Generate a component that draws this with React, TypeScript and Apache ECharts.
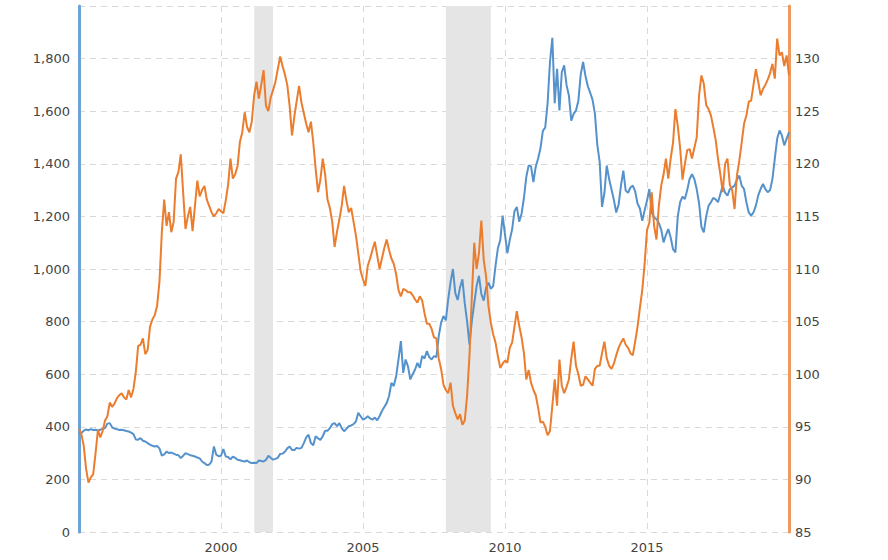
import React, { useEffect, useRef } from "react";
import * as echarts from "echarts";

const startYear = 1995;

// Gold price, USD/oz, monthly from Jan 1995 to Jan 2020 (left axis)
const goldPrice = [
  380, 376, 385, 390, 387, 391, 388, 389, 386, 389, 392, 395,
  412, 414, 398, 393, 391, 388, 389, 387, 384, 382, 378, 372,
  352, 351, 357, 347, 344, 338, 332, 328, 325, 327, 318, 290,
  295, 306, 300, 302, 298, 294, 292, 281, 290, 300, 296, 292,
  290, 287, 283, 280, 268, 262, 255, 256, 268, 325, 294, 288,
  290, 315, 287, 285, 276, 287, 282, 275, 273, 270, 268, 272,
  265, 262, 263, 262, 272, 270, 268, 274, 290, 282, 275, 278,
  282, 297, 298, 305, 318, 325, 312, 312, 320, 317, 320, 338,
  360, 370, 338, 330, 364, 356, 350, 364, 385, 385, 395, 410,
  414, 402, 414, 395, 383, 392, 402, 405, 410, 420, 453, 440,
  427, 432, 440, 432, 427, 435, 425, 440, 460, 475, 490, 516,
  567, 555, 592, 656, 726, 605, 656, 630, 580, 600, 618, 643,
  624, 669, 660, 688, 665, 656, 669, 665, 745, 796, 821, 805,
  885, 950, 1000, 908, 882, 930, 961, 869, 800, 712, 804, 869,
  935, 974, 905, 880, 930, 948, 925, 935, 1013, 1079, 1110, 1203,
  1131, 1060, 1110, 1150, 1220, 1236, 1180, 1210, 1270, 1350, 1394, 1390,
  1330, 1390, 1420, 1460, 1525, 1538, 1630, 1787, 1879, 1630, 1761, 1603,
  1748, 1774, 1700, 1660, 1564, 1590, 1603, 1640, 1740, 1787, 1734, 1695,
  1670, 1643, 1590, 1472, 1407, 1236, 1289, 1393, 1342, 1302, 1263, 1215,
  1245, 1317, 1374, 1298, 1290, 1310, 1317, 1295, 1249, 1230, 1183, 1223,
  1260, 1304, 1215, 1195, 1190, 1175, 1150, 1101, 1130, 1152, 1120, 1075,
  1063, 1200, 1254, 1275, 1266, 1300, 1342, 1360, 1342, 1304, 1250, 1160,
  1139, 1200, 1240, 1254, 1270, 1265, 1254, 1285, 1317, 1290, 1279, 1304,
  1310, 1317, 1340, 1355, 1317, 1304, 1254, 1215, 1203, 1215, 1241, 1280,
  1304, 1323, 1304, 1292, 1300, 1342, 1420, 1495, 1527, 1508, 1470, 1495,
  1520,
];

// Trade-weighted US dollar index, monthly from Jan 1995 to Jan 2020 (right axis)
const dollarIndex = [
  94.8, 94.3, 93.2, 91.0, 89.7, 90.2, 90.5, 92.5, 94.7, 94.0, 94.6, 95.6,
  96.0, 97.3, 96.9, 97.2, 97.7, 98.0, 98.2, 97.8, 97.6, 98.5, 97.8, 98.6,
  100.2, 102.7, 102.8, 103.4, 101.9, 102.3, 104.5, 105.2, 105.6, 106.5, 108.8, 113.5,
  116.6, 114.1, 115.4, 113.5, 114.5, 118.6, 119.2, 120.9, 117.3, 113.8, 115.0, 115.9,
  113.6, 116.0, 118.4, 116.9, 117.5, 117.9, 116.6, 116.0, 115.4, 115.0, 115.3, 115.7,
  115.5, 115.3, 116.5, 118.0, 120.5, 118.6, 119.0, 119.8, 122.1, 123.0, 124.9, 123.5,
  123.0, 124.0, 126.5, 127.8, 126.2, 127.5, 128.9, 125.5, 125.0, 126.3, 127.0, 127.8,
  129.0, 130.2, 129.3, 128.5, 127.5, 125.5, 122.7, 124.5, 126.0, 127.4, 125.8, 124.8,
  123.8, 123.0, 124.0, 122.0, 119.5, 117.3, 118.5, 120.5, 119.0, 116.6, 115.8, 114.5,
  112.1, 113.5, 114.7, 116.0, 117.9, 116.5, 115.4, 115.8, 114.5, 113.2, 111.5, 109.8,
  109.0, 108.4, 110.3, 111.0, 111.8, 112.6, 111.3, 110.0, 111.0, 112.0, 112.8, 111.8,
  111.0, 110.5, 109.5, 108.0, 107.4, 108.1, 108.0, 107.8, 107.8, 107.5, 107.1, 106.8,
  107.4, 107.0, 105.8, 104.8, 104.8, 104.3, 103.5, 103.4, 101.5, 100.5, 99.0, 98.5,
  98.2, 99.2, 97.0, 96.3, 95.7, 96.2, 95.2, 95.6, 98.0, 101.8, 107.4, 112.5,
  110.0, 111.5, 114.6, 110.9, 109.3, 106.5, 104.9, 103.8, 103.0, 101.7, 100.6, 101.0,
  101.3, 101.1, 102.5, 103.0, 104.5, 106.0, 104.6, 103.5, 102.0, 99.5, 100.4, 99.2,
  98.5, 98.0, 96.8, 95.4, 95.5, 95.0, 94.2, 94.6, 97.0, 99.5, 97.0, 101.4,
  98.9, 98.2, 98.8, 99.5, 101.5, 103.1, 100.8, 100.0, 98.9, 99.0, 99.8, 99.5,
  99.2, 98.9, 100.5, 100.8, 100.8, 102.0, 103.1, 101.5, 100.8, 100.5, 101.0, 101.8,
  102.5, 103.0, 103.4, 102.8, 102.5, 102.0, 101.8, 103.1, 104.5, 106.3, 108.0, 110.5,
  113.7, 114.4, 117.3, 114.1, 112.8, 116.0, 117.9, 119.0, 120.5, 118.6, 120.5, 122.0,
  125.2, 123.6, 121.5, 118.5, 120.0, 121.3, 121.4, 120.5, 121.5, 122.5, 126.5, 128.4,
  127.6, 125.6, 125.2, 124.6, 123.5, 122.3, 120.5, 119.0, 117.3, 120.0, 120.5, 118.0,
  117.5, 115.7, 118.9, 120.3, 122.0, 123.8, 124.6, 125.9, 126.0, 127.5, 129.0, 127.8,
  126.5, 127.1, 127.5, 128.0, 128.6, 129.5, 128.1, 131.9, 130.3, 130.6, 129.3, 130.3,
  128.4,
];

// Recession periods (decimal years)
const recessions: [number, number][] = [
  [2001.17, 2001.83],
  [2007.92, 2009.5],
];

const xTicks = [2000, 2005, 2010, 2015];

const BLUE = "#5592cc";
const ORANGE = "#eb7d2e";
const GRID = "#d9d9d9";
const FONT = "DejaVu Sans";

export default function App() {
  const ref = useRef<HTMLDivElement>(null);

  useEffect(() => {
    if (!ref.current) return;
    const chart = echarts.init(ref.current, undefined, { renderer: "svg" });

    const toPoints = (vals: number[]) =>
      vals.map((v, i) => [startYear + i / 12, v]);

    const gridLine = {
      show: true,
      lineStyle: { color: GRID, type: [6, 5], width: 1 },
    };

    chart.setOption({
      animation: false,
      grid: { left: 79, right: 99, top: 6, bottom: 28 },
      xAxis: {
        type: "value",
        min: 1995,
        max: 2020,
        interval: 5,
        axisLine: { show: false },
        axisTick: { show: false },
        axisLabel: {
          color: "#444",
          fontFamily: FONT,
          fontSize: 13,
          margin: 9,
          formatter: (v: number) => (xTicks.includes(v) ? String(v) : ""),
        },
        splitLine: gridLine,
      },
      yAxis: [
        {
          type: "value",
          min: 0,
          max: 2000,
          interval: 200,
          position: "left",
          axisLine: { show: true, lineStyle: { color: "#6ea2d4", width: 3 } },
          axisTick: { show: false },
          axisLabel: {
            color: "#444",
            fontFamily: FONT,
            fontSize: 13,
            margin: 9,
            formatter: (v: number) =>
              v >= 2000 ? "" : v.toLocaleString("en-US"),
          },
          splitLine: gridLine,
        },
        {
          type: "value",
          min: 85,
          max: 135,
          interval: 5,
          position: "right",
          axisLine: { show: true, lineStyle: { color: "#ee9a5e", width: 3 } },
          axisTick: { show: false },
          axisLabel: {
            color: "#444",
            fontFamily: FONT,
            fontSize: 13,
            margin: 6,
            formatter: (v: number) => (v >= 135 ? "" : String(v)),
          },
          splitLine: { show: false },
        },
      ],
      series: [
        {
          type: "line",
          name: "recessions",
          data: [],
          z: 1,
          silent: true,
          markArea: {
            silent: true,
            itemStyle: { color: "#e5e5e5" },
            data: recessions.map(([a, b]) => [{ xAxis: a }, { xAxis: b }]),
          },
        },
        {
          type: "line",
          name: "Gold",
          yAxisIndex: 0,
          data: toPoints(goldPrice),
          showSymbol: false,
          symbol: "none",
          z: 3,
          lineStyle: { color: BLUE, width: 2 },
          itemStyle: { color: BLUE },
        },
        {
          type: "line",
          name: "US Dollar",
          yAxisIndex: 1,
          data: toPoints(dollarIndex),
          showSymbol: false,
          symbol: "none",
          z: 4,
          lineStyle: { color: ORANGE, width: 2 },
          itemStyle: { color: ORANGE },
        },
      ],
    });

    return () => chart.dispose();
  }, []);

  return (
    <div
      ref={ref}
      style={{ position: "fixed", left: 0, top: 0, width: 888, height: 560, background: "#fff" }}
    />
  );
}
